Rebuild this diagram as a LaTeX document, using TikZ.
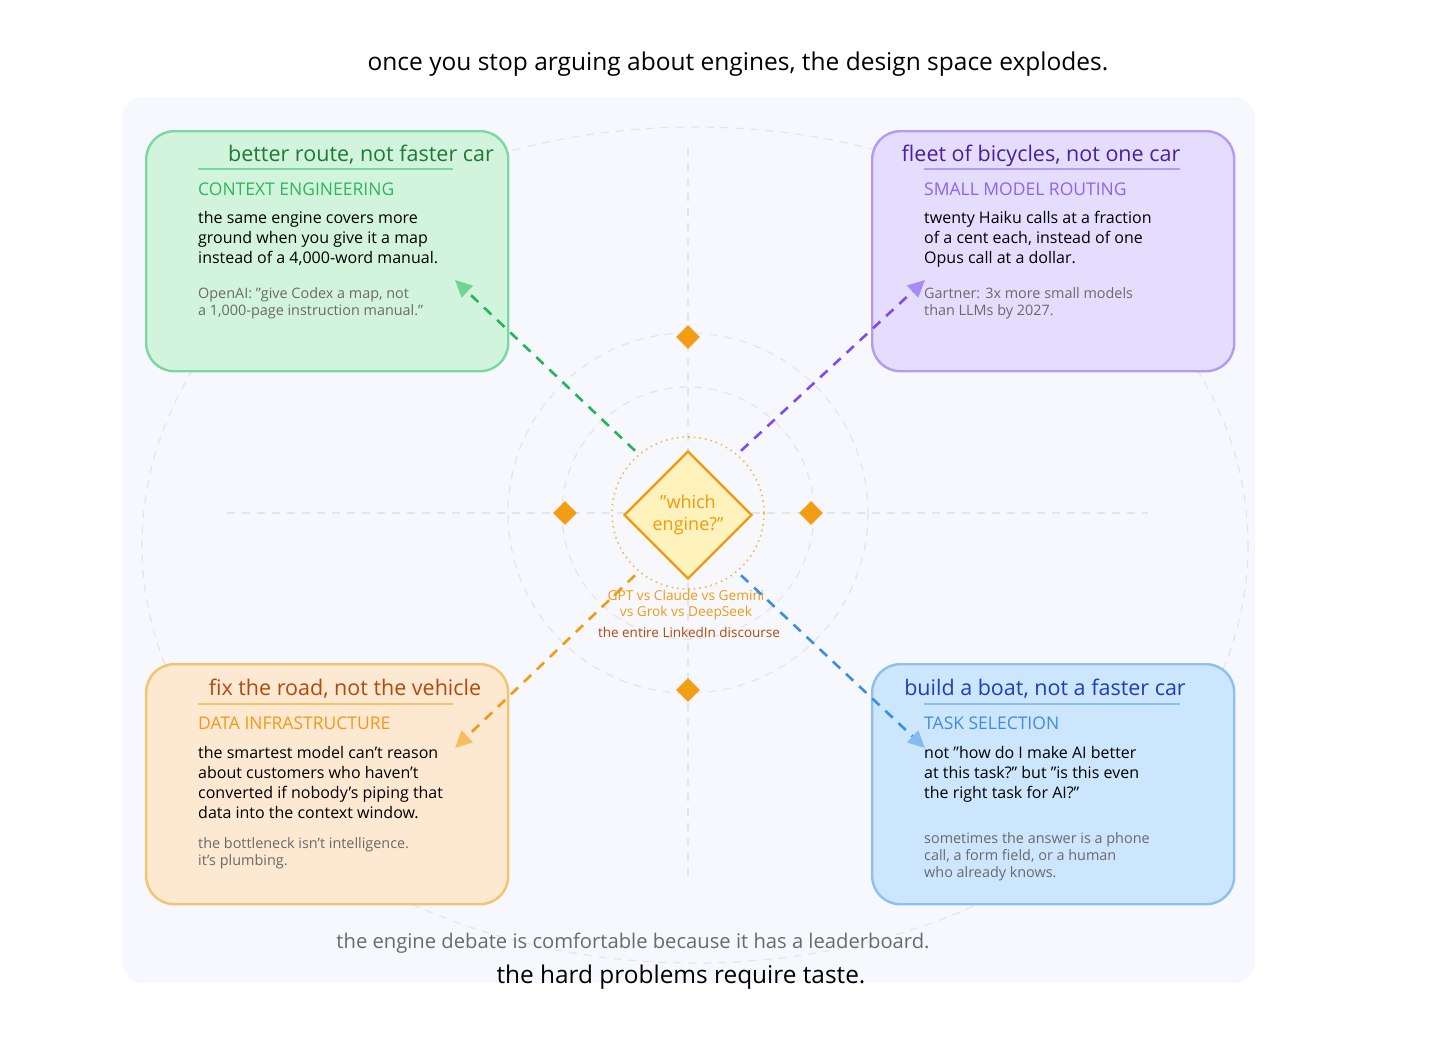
\documentclass[tikz,border=0pt]{standalone}
\usepackage{fontspec}
\setmainfont{Open Sans}
\usepackage{xcolor}
\usetikzlibrary{arrows.meta,shapes.geometric}

\definecolor{panelbg}{HTML}{F7F8FD}
\definecolor{guidegray}{HTML}{E3E5EB}
\definecolor{notegray}{HTML}{6A6A6A}
\definecolor{greenfill}{HTML}{D3F4DC}
\definecolor{greenline}{HTML}{7AD9A0}
\definecolor{greenhead}{HTML}{1A7A36}
\definecolor{greentag}{HTML}{2DB65E}
\definecolor{greenarrow}{HTML}{22B55A}
\definecolor{greentip}{HTML}{6ED594}
\definecolor{purplefill}{HTML}{E5DDFD}
\definecolor{purpleline}{HTML}{B49AF5}
\definecolor{purplehead}{HTML}{4A1FA0}
\definecolor{purpletag}{HTML}{8E63EE}
\definecolor{purplearrow}{HTML}{7E4BF0}
\definecolor{purpletip}{HTML}{A98BF5}
\definecolor{orangefill}{HTML}{FDE8D1}
\definecolor{orangeline}{HTML}{F6C26B}
\definecolor{orangehead}{HTML}{B34A0C}
\definecolor{orangetag}{HTML}{F29A16}
\definecolor{orangearrow}{HTML}{F39A12}
\definecolor{orangetip}{HTML}{F6BE62}
\definecolor{bluefill}{HTML}{CCE6FD}
\definecolor{blueline}{HTML}{8DC0F2}
\definecolor{bluehead}{HTML}{1D3FB8}
\definecolor{bluetag}{HTML}{3E8DE0}
\definecolor{bluearrow}{HTML}{3A8EE6}
\definecolor{bluetip}{HTML}{84BCF2}
\definecolor{hubfill}{HTML}{FFF2BD}
\definecolor{hubline}{HTML}{F29A0A}
\definecolor{pipc}{HTML}{F29D13}
\definecolor{ringc}{HTML}{F5B84A}

\tikzset{
  card/.style 2 args={draw=#1, fill=#2, line width=2.4pt, rounded corners=28pt,
    minimum width=362pt, minimum height=240pt, anchor=north west, inner sep=0pt},
  heading/.style={font=\fontsize{21.5}{25}\selectfont, anchor=base, inner sep=0pt},
  tag/.style={font=\fontsize{17.5}{21}\selectfont, anchor=base west, inner sep=0pt},
  body/.style={font=\fontsize{16}{20}\selectfont, anchor=north west, align=left,
    inner sep=0pt, text=black},
  note/.style={font=\fontsize{14.4}{17}\selectfont, anchor=north west, align=left,
    inner sep=0pt, text=notegray},
  guide/.style={draw=guidegray, line width=1.2pt, dash pattern=on 8pt off 7pt},
  link/.style={line width=2.6pt, dash pattern=on 10pt off 8pt, shorten <=5pt},
  pip/.style={diamond, fill=pipc, minimum size=24pt, inner sep=0pt},
}

\begin{document}
\begin{tikzpicture}[x=1pt, y=-1pt]
  \useasboundingbox (0,0) rectangle (1456,1042);
  \fill[white] (0,0) rectangle (1456,1042);
  \fill[panelbg, rounded corners=22pt] (122,97) rectangle (1255,983);

  % background guides
  \draw[guide] (695,545) ellipse [x radius=553, y radius=418];
  \draw[guide] (688,513) circle [radius=180];
  \draw[guide] (688,513) circle [radius=126];
  \draw[guide] (227,513) -- (1148,513);
  \draw[guide] (688,148) -- (688,878);

  \node (title) [font=\fontsize{24.5}{28}\selectfont, anchor=base] at (738,70)
    {once you stop arguing about engines, the design space explodes.};

  % the four cards
  \node[card={greenline}{greenfill}] (route) at (145,130) {};
  \node[card={purpleline}{purplefill}] (fleet) at (871,130) {};
  \node[card={orangeline}{orangefill}] (road) at (145,663) {};
  \node[card={blueline}{bluefill}] (boat) at (871,663) {};

  \node[heading, text=greenhead] (routehead) at (361,161) {better route, not faster car};
  \draw[greenline, line width=1.5pt] (198,169) -- (453,169);
  \node[tag, text=greentag] (routetag) at (198,195) {CONTEXT ENGINEERING};
  \node[body] (routebody) at (198,211) {the same engine covers more\\ground when you give it a map\\instead of a 4,000-word manual.};
  \node[note] (routenote) at (198,287) {OpenAI: "give Codex a map, not\\a 1,000-page instruction manual."};

  \node[heading, text=purplehead] (fleethead) at (1041,161) {fleet of bicycles, not one car};
  \draw[purpleline, line width=1.5pt] (924,169) -- (1180,169);
  \node[tag, text=purpletag] (fleettag) at (924,195) {SMALL MODEL ROUTING};
  \node[body] (fleetbody) at (924,211) {twenty Haiku calls at a fraction\\of a cent each, instead of one\\Opus call at a dollar.};
  \node[note] (fleetnote) at (924,287) {Gartner: 3x more small models\\than LLMs by 2027.};

  \node[heading, text=orangehead] (roadhead) at (345,695) {fix the road, not the vehicle};
  \draw[orangeline, line width=1.5pt] (198,704) -- (453,704);
  \node[tag, text=orangetag] (roadtag) at (198,729) {DATA INFRASTRUCTURE};
  \node[body] (roadbody) at (198,746) {the smartest model can't reason\\about customers who haven't\\converted if nobody's piping that\\data into the context window.};
  \node[note] (roadnote) at (198,837) {the bottleneck isn't intelligence.\\it's plumbing.};

  \node[heading, text=bluehead] (boathead) at (1045,695) {build a boat, not a faster car};
  \draw[blueline, line width=1.5pt] (924,704) -- (1180,704);
  \node[tag, text=bluetag] (boattag) at (924,729) {TASK SELECTION};
  \node[body] (boatbody) at (924,746) {not "how do I make AI better\\at this task?" but "is this even\\the right task for AI?"};
  \node[note] (boatnote) at (924,832) {sometimes the answer is a phone\\call, a form field, or a human\\who already knows.};

  % hub
  \node[pip] (pipn) at (688,337) {};
  \node[pip] (pips) at (688,690) {};
  \node[pip] (pipw) at (565,513) {};
  \node[pip] (pipe) at (811,513) {};
  \node[circle, draw=ringc, line width=1.6pt, dash pattern=on 1.6pt off 4pt,
    minimum size=152pt, inner sep=0pt] (ring) at (688,513) {};
  \node[diamond, draw=hubline, fill=hubfill, line width=2.4pt, minimum size=128pt,
    inner sep=0pt, align=center, text=hubline, font=\fontsize{18}{22}\selectfont]
    (hub) at (688,515) {"which\\engine?"};
  \node[font=\fontsize{13.7}{16}\selectfont, text=orangetag, align=center, anchor=base]
    (rivals) at (686,616) {GPT vs Claude vs Gemini\\vs Grok vs DeepSeek};
  \node[font=\fontsize{13.5}{16}\selectfont, text=orangehead, anchor=base]
    (discourse) at (689,637) {the entire LinkedIn discourse};

  % dashed links out to the cards
  \coordinate (routetip) at (455,280);
  \coordinate (fleettip) at (925,280);
  \coordinate (roadtip) at (455,748);
  \coordinate (boattip) at (925,748);
  \draw[link, greenarrow, -{Triangle[length=17pt,width=16pt,color=greentip]}] (ring.130) -- (routetip);
  \draw[link, purplearrow, -{Triangle[length=17pt,width=16pt,color=purpletip]}] (ring.50) -- (fleettip);
  \draw[link, orangearrow, -{Triangle[length=17pt,width=16pt,color=orangetip]}] (ring.230) -- (roadtip);
  \draw[link, bluearrow, -{Triangle[length=17pt,width=16pt,color=bluetip]}] (ring.310) -- (boattip);

  \node[font=\fontsize{20.2}{24}\selectfont, text=notegray, anchor=base] (debate) at (633,948)
    {the engine debate is comfortable because it has a leaderboard.};
  \node[font=\fontsize{24.4}{28}\selectfont, anchor=base] (taste) at (681,983)
    {the hard problems require taste.};
\end{tikzpicture}
\end{document}
